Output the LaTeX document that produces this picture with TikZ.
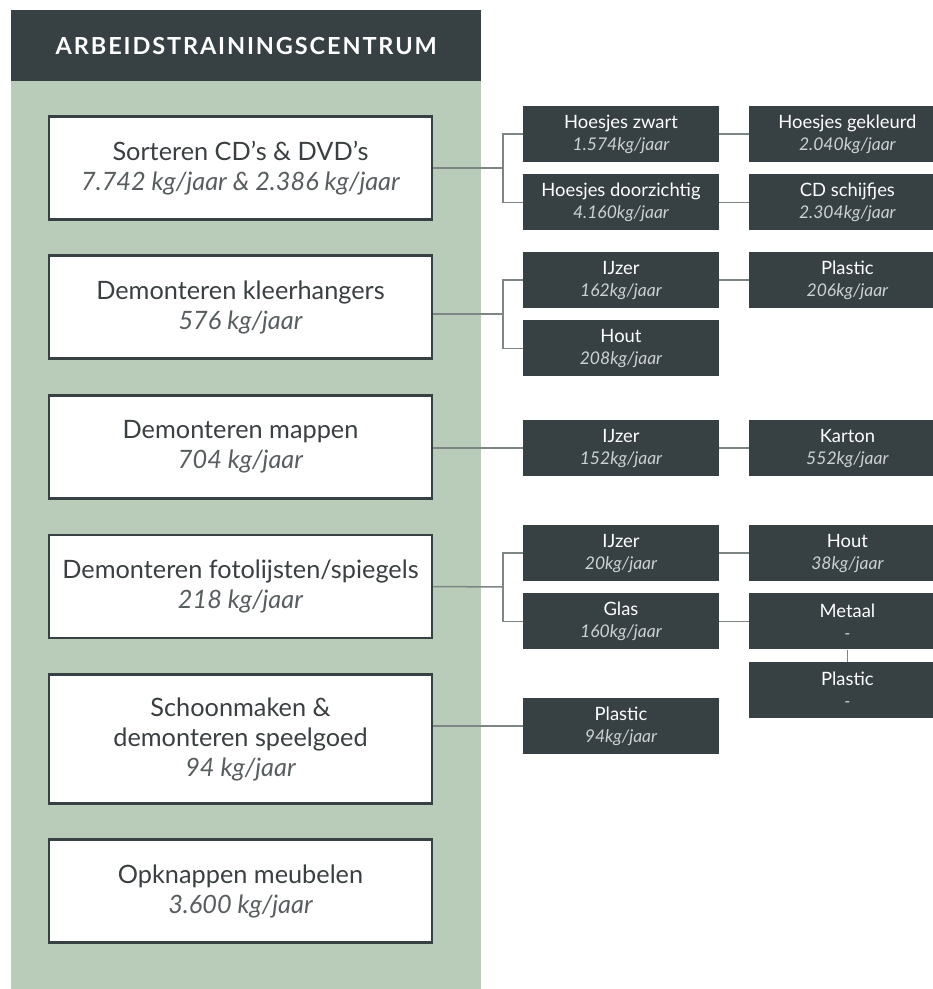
\documentclass[tikz,border=0pt]{standalone}
\usepackage{fontspec}
\setmainfont{Lato}
\usetikzlibrary{positioning}
\definecolor{atcdark}{RGB}{55,64,67}
\definecolor{atcgreen}{RGB}{185,204,186}
\definecolor{atcline}{RGB}{125,133,133}
\definecolor{atctext}{RGB}{58,63,65}
\definecolor{atcsub}{RGB}{88,94,96}
\definecolor{atclight}{RGB}{205,210,210}
\tikzstyle{taak} = [rectangle, draw=atcdark, line width=2.5pt, fill=white, minimum width=383pt, minimum height=103pt, inner sep=0pt, align=center, text=atctext, font=\fontsize{25.3}{30}\selectfont]
\tikzstyle{stroom} = [rectangle, fill=atcdark, minimum width=196pt, minimum height=56pt, inner sep=0pt, align=center, text=white, font=\fontsize{18.4}{22}\selectfont]
\tikzstyle{link} = [draw=atcline, line width=1.5pt]
\newcommand{\taaksub}[1]{{\itshape\color{atcsub}#1}}
\newcommand{\stroomsub}[1]{{\itshape\fontsize{17.5}{22}\selectfont\color{atclight}#1}}

\begin{document}
\begin{tikzpicture}[x=1pt, y=-1pt]
\useasboundingbox (0,0) rectangle (933,989);
% Panel
\fill[atcgreen] (11,81) rectangle (481,989);
\node[fill=atcdark, minimum width=470pt, minimum height=71pt, inner sep=0pt, anchor=north west, text=white, font=\fontsize{23.5}{28}\selectfont\bfseries\addfontfeature{LetterSpace=8}] (kop) at (11,10) {ARBEIDSTRAININGSCENTRUM};

% Activities
\node[taak] (t1) at (240.5,168) {Sorteren CD's \& DVD's\\\taaksub{7.742 kg/jaar \& 2.386 kg/jaar}};
\node[taak] (t2) at (240.5,307) {Demonteren kleerhangers\\\taaksub{576 kg/jaar}};
\node[taak] (t3) at (240.5,447) {Demonteren mappen\\\taaksub{704 kg/jaar}};
\node[taak] (t4) at (240.5,586.5) {Demonteren fotolijsten/spiegels\\\taaksub{218 kg/jaar}};
\node[taak, minimum height=129pt] (t5) at (240.5,739) {Schoonmaken \&\\demonteren speelgoed\\\taaksub{94 kg/jaar}};
\node[taak] (t6) at (240.5,891) {Opknappen meubelen\\\taaksub{3.600 kg/jaar}};

% CD's & DVD's
\node[stroom] (s1a) at (621,134) {Hoesjes zwart\\\stroomsub{1.574kg/jaar}};
\node[stroom, below=12pt of s1a] (s1b) {Hoesjes doorzichtig\\\stroomsub{4.160kg/jaar}};
\node[stroom, right=30pt of s1a] (r1a) {Hoesjes gekleurd\\\stroomsub{2.040kg/jaar}};
\node[stroom, right=30pt of s1b] (r1b) {CD schijfjes\\\stroomsub{2.304kg/jaar}};

% Kleerhangers
\node[stroom] (s2a) at (621,280) {IJzer\\\stroomsub{162kg/jaar}};
\node[stroom, below=12pt of s2a] (s2b) {Hout\\\stroomsub{208kg/jaar}};
\node[stroom, right=30pt of s2a] (r2a) {Plastic\\\stroomsub{206kg/jaar}};

% Mappen
\node[stroom] (s3) at (621,448) {IJzer\\\stroomsub{152kg/jaar}};
\node[stroom, right=30pt of s3] (r3) {Karton\\\stroomsub{552kg/jaar}};

% Fotolijsten/spiegels
\node[stroom] (s4a) at (621,553) {IJzer\\\stroomsub{20kg/jaar}};
\node[stroom, below=12pt of s4a] (s4b) {Glas\\\stroomsub{160kg/jaar}};
\node[stroom, right=30pt of s4a] (r4a) {Hout\\\stroomsub{38kg/jaar}};
\node[stroom, right=30pt of s4b] (r4b) {Metaal\\\stroomsub{-}};
\node[stroom, below=12pt of r4b] (r4c) {Plastic\\\stroomsub{-}};

% Speelgoed
\node[stroom] (s5) at (621,726) {Plastic\\\stroomsub{94kg/jaar}};

% Connectors
\coordinate (b1) at (503,168);
\coordinate (b2) at (503,314);
\coordinate (b4) at (503,587);
\draw[link] (t1.east) -- (b1);
\draw[link] (s1a.west) -| (b1) |- (s1b.west);
\draw[link] (s1a.east) -- (r1a.west);
\draw[link] (s1b.east) -- (r1b.west);
\draw[link] (t2.east |- b2) -- (b2);
\draw[link] (s2a.west) -| (b2) |- (s2b.west);
\draw[link] (s2a.east) -- (r2a.west);
\draw[link] (t3.east |- s3.west) -- (s3.west);
\draw[link] (s3.east) -- (r3.west);
\draw[link] (t4.east) -- (b4);
\draw[link] (s4a.west) -| (b4) |- (s4b.west);
\draw[link] (s4a.east) -- (r4a.west);
\draw[link] (s4b.east) -- (r4b.west);
\draw[link] (r4b.south) -- (r4c.north);
\draw[link] (t5.east |- s5.west) -- (s5.west);
\end{tikzpicture}
\end{document}
